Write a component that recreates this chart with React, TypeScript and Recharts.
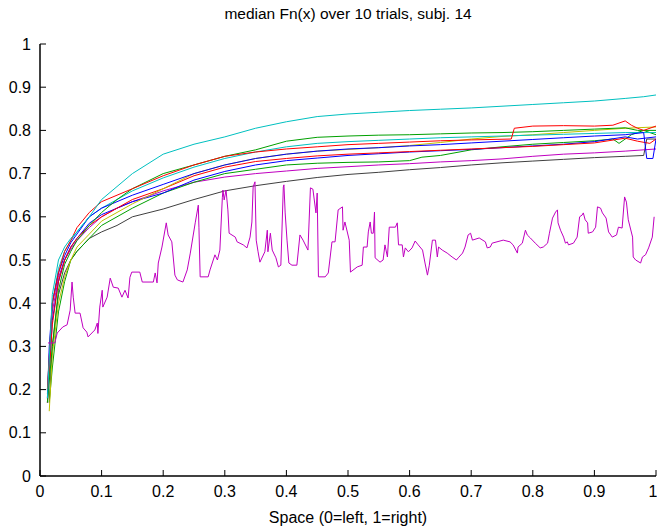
import React from 'react';
import { LineChart, Line, XAxis, YAxis } from 'recharts';

type P = [number, number];

const xTicks = [0, 0.1, 0.2, 0.3, 0.4, 0.5, 0.6, 0.7, 0.8, 0.9, 1];
const yTicks = [0, 0.1, 0.2, 0.3, 0.4, 0.5, 0.6, 0.7, 0.8, 0.9, 1];
const tickLabels = ['0', '0.1', '0.2', '0.3', '0.4', '0.5', '0.6', '0.7', '0.8', '0.9', '1'];

const titleText = 'median Fn(x) over 10 trials, subj. 14';
const xLabelText = 'Space (0=left, 1=right)';

const cyanTop: P[] = [
  [0.012, 0.18], [0.02, 0.42], [0.03, 0.5], [0.04, 0.53], [0.05, 0.55], [0.06, 0.565], [0.08, 0.6],
  [0.1, 0.64], [0.125, 0.67], [0.15, 0.7], [0.2, 0.745], [0.25, 0.768], [0.3, 0.785], [0.35, 0.805],
  [0.4, 0.82], [0.45, 0.832], [0.5, 0.838], [0.55, 0.842], [0.6, 0.846], [0.65, 0.849], [0.7, 0.852],
  [0.75, 0.856], [0.8, 0.86], [0.85, 0.864], [0.9, 0.868], [0.95, 0.874], [0.98, 0.878], [1.0, 0.882],
];
const redA: P[] = [
  [0.012, 0.2], [0.02, 0.4], [0.03, 0.47], [0.04, 0.52], [0.05, 0.545], [0.06, 0.575], [0.08, 0.61],
  [0.1, 0.635], [0.125, 0.65], [0.15, 0.665], [0.2, 0.695], [0.25, 0.72], [0.3, 0.74], [0.35, 0.75],
  [0.4, 0.757], [0.45, 0.762], [0.5, 0.767], [0.55, 0.77], [0.6, 0.773], [0.65, 0.776], [0.7, 0.778],
  [0.765, 0.78], [0.77, 0.805], [0.8, 0.81], [0.85, 0.811], [0.9, 0.81], [0.93, 0.812], [0.95, 0.822],
  [0.96, 0.812], [0.97, 0.805], [0.98, 0.8], [1.0, 0.81],
];
const redB: P[] = [
  [0.012, 0.17], [0.02, 0.35], [0.03, 0.45], [0.04, 0.5], [0.05, 0.53], [0.06, 0.55], [0.08, 0.58],
  [0.1, 0.6], [0.125, 0.62], [0.15, 0.64], [0.2, 0.665], [0.25, 0.695], [0.3, 0.715], [0.35, 0.728],
  [0.4, 0.735], [0.45, 0.741], [0.5, 0.745], [0.55, 0.748], [0.6, 0.751], [0.65, 0.754], [0.7, 0.757],
  [0.75, 0.76], [0.8, 0.763], [0.85, 0.767], [0.9, 0.771], [0.95, 0.782], [0.97, 0.775], [0.99, 0.77],
  [1.0, 0.78],
];
const greenA: P[] = [
  [0.012, 0.17], [0.02, 0.3], [0.03, 0.43], [0.04, 0.49], [0.05, 0.52], [0.06, 0.545], [0.08, 0.58],
  [0.1, 0.61], [0.125, 0.64], [0.15, 0.665], [0.2, 0.7], [0.25, 0.72], [0.3, 0.74], [0.35, 0.755],
  [0.4, 0.775], [0.45, 0.784], [0.5, 0.787], [0.55, 0.789], [0.6, 0.79], [0.65, 0.792], [0.7, 0.794],
  [0.75, 0.795], [0.8, 0.797], [0.85, 0.8], [0.9, 0.803], [0.95, 0.806], [0.97, 0.8], [1.0, 0.8],
];
const greenB: P[] = [
  [0.015, 0.17], [0.02, 0.25], [0.03, 0.38], [0.04, 0.45], [0.05, 0.5], [0.06, 0.52], [0.08, 0.55],
  [0.1, 0.58], [0.125, 0.6], [0.15, 0.62], [0.2, 0.655], [0.25, 0.68], [0.3, 0.7], [0.35, 0.71],
  [0.4, 0.72], [0.45, 0.724], [0.5, 0.726], [0.55, 0.727], [0.6, 0.73], [0.62, 0.738], [0.65, 0.742],
  [0.7, 0.755], [0.75, 0.762], [0.8, 0.768], [0.85, 0.772], [0.9, 0.776], [0.93, 0.78], [0.94, 0.77],
  [0.96, 0.79], [0.98, 0.8], [1.0, 0.79],
];
const blueA: P[] = [
  [0.012, 0.18], [0.015, 0.3], [0.02, 0.4], [0.03, 0.47], [0.04, 0.51], [0.05, 0.54], [0.06, 0.56],
  [0.08, 0.6], [0.1, 0.62], [0.125, 0.635], [0.15, 0.65], [0.2, 0.675], [0.25, 0.7], [0.3, 0.72],
  [0.35, 0.735], [0.4, 0.745], [0.45, 0.752], [0.5, 0.757], [0.55, 0.76], [0.6, 0.764], [0.65, 0.767],
  [0.7, 0.771], [0.75, 0.775], [0.8, 0.779], [0.85, 0.783], [0.9, 0.787], [0.95, 0.79], [0.98, 0.795],
  [0.985, 0.735], [0.995, 0.735], [1.0, 0.78],
];
const blueB: P[] = [
  [0.012, 0.17], [0.02, 0.36], [0.03, 0.45], [0.04, 0.5], [0.05, 0.53], [0.06, 0.55], [0.08, 0.585],
  [0.1, 0.605], [0.125, 0.62], [0.15, 0.635], [0.2, 0.655], [0.25, 0.685], [0.3, 0.705], [0.35, 0.72],
  [0.4, 0.73], [0.45, 0.736], [0.5, 0.742], [0.55, 0.746], [0.6, 0.75], [0.65, 0.753], [0.7, 0.756],
  [0.75, 0.76], [0.8, 0.764], [0.85, 0.768], [0.9, 0.774], [0.95, 0.785], [0.97, 0.78], [1.0, 0.785],
];
const cyanB: P[] = [
  [0.012, 0.2], [0.02, 0.4], [0.03, 0.48], [0.04, 0.52], [0.05, 0.545], [0.06, 0.565], [0.08, 0.6],
  [0.1, 0.62], [0.125, 0.64], [0.15, 0.66], [0.2, 0.69], [0.25, 0.715], [0.3, 0.735], [0.35, 0.75],
  [0.4, 0.762], [0.45, 0.77], [0.5, 0.774], [0.55, 0.777], [0.6, 0.78], [0.65, 0.783], [0.7, 0.785],
  [0.75, 0.787], [0.8, 0.789], [0.85, 0.791], [0.9, 0.793], [0.95, 0.795], [1.0, 0.795],
];
const yellowA: P[] = [
  [0.015, 0.15], [0.02, 0.28], [0.03, 0.4], [0.04, 0.46], [0.05, 0.5], [0.06, 0.53], [0.08, 0.56],
  [0.1, 0.59], [0.125, 0.61], [0.15, 0.63], [0.2, 0.665], [0.25, 0.7], [0.3, 0.72], [0.35, 0.735],
  [0.4, 0.745], [0.45, 0.752], [0.5, 0.756], [0.55, 0.76], [0.6, 0.765], [0.65, 0.772], [0.7, 0.78],
  [0.75, 0.786], [0.8, 0.79], [0.85, 0.795], [0.9, 0.8], [0.95, 0.805], [1.0, 0.808],
];
const magentaSmooth: P[] = [
  [0.012, 0.19], [0.02, 0.38], [0.03, 0.46], [0.04, 0.5], [0.05, 0.525], [0.06, 0.545], [0.08, 0.575],
  [0.1, 0.6], [0.125, 0.62], [0.15, 0.635], [0.2, 0.66], [0.25, 0.68], [0.3, 0.692], [0.35, 0.7],
  [0.4, 0.706], [0.45, 0.712], [0.5, 0.716], [0.55, 0.72], [0.6, 0.723], [0.65, 0.727], [0.7, 0.73],
  [0.75, 0.734], [0.8, 0.74], [0.85, 0.745], [0.9, 0.748], [0.95, 0.752], [1.0, 0.757],
];
const grayA: P[] = [
  [0.015, 0.17], [0.02, 0.3], [0.03, 0.42], [0.04, 0.47], [0.05, 0.5], [0.06, 0.52], [0.08, 0.55],
  [0.1, 0.565], [0.125, 0.58], [0.15, 0.6], [0.2, 0.618], [0.25, 0.64], [0.3, 0.66], [0.35, 0.672],
  [0.4, 0.682], [0.45, 0.691], [0.5, 0.698], [0.55, 0.703], [0.6, 0.709], [0.65, 0.714], [0.7, 0.72],
  [0.75, 0.725], [0.8, 0.729], [0.85, 0.733], [0.9, 0.737], [0.95, 0.74], [0.98, 0.742], [0.985, 0.78],
  [1.0, 0.78],
];
const magentaNoisy: P[] = [
  [0.013, 0.308], [0.024, 0.308], [0.028, 0.331], [0.037, 0.345], [0.044, 0.35], [0.049, 0.384],
  [0.052, 0.449], [0.054, 0.414], [0.057, 0.377], [0.065, 0.377], [0.07, 0.343], [0.076, 0.333],
  [0.078, 0.322], [0.089, 0.338], [0.093, 0.354], [0.094, 0.33], [0.097, 0.391], [0.101, 0.43],
  [0.102, 0.391], [0.109, 0.414], [0.114, 0.458], [0.119, 0.437], [0.127, 0.435], [0.133, 0.414],
  [0.138, 0.43], [0.143, 0.412], [0.146, 0.46], [0.149, 0.472], [0.162, 0.472], [0.166, 0.449],
  [0.184, 0.449], [0.187, 0.47], [0.19, 0.447], [0.192, 0.493], [0.198, 0.53], [0.205, 0.586],
  [0.208, 0.558], [0.214, 0.542], [0.219, 0.465], [0.223, 0.454], [0.232, 0.449], [0.239, 0.477],
  [0.244, 0.516], [0.252, 0.586], [0.257, 0.627], [0.258, 0.576], [0.26, 0.461], [0.273, 0.461],
  [0.276, 0.477], [0.284, 0.512], [0.288, 0.5], [0.292, 0.523], [0.296, 0.644], [0.297, 0.662],
  [0.299, 0.639], [0.302, 0.662], [0.305, 0.616], [0.307, 0.562], [0.317, 0.553], [0.32, 0.542],
  [0.33, 0.535], [0.336, 0.528], [0.341, 0.553], [0.344, 0.588], [0.346, 0.669], [0.349, 0.681],
  [0.351, 0.546], [0.354, 0.519], [0.357, 0.495], [0.365, 0.519], [0.369, 0.569], [0.37, 0.519],
  [0.374, 0.562], [0.377, 0.523], [0.383, 0.505], [0.387, 0.484], [0.391, 0.488], [0.395, 0.669],
  [0.396, 0.674], [0.398, 0.609], [0.401, 0.546], [0.404, 0.493], [0.409, 0.488], [0.417, 0.488],
  [0.422, 0.558], [0.427, 0.546], [0.435, 0.523], [0.439, 0.667], [0.443, 0.664], [0.448, 0.609],
  [0.45, 0.655], [0.452, 0.461], [0.463, 0.461], [0.468, 0.47], [0.474, 0.542], [0.479, 0.542],
  [0.484, 0.616], [0.491, 0.623], [0.492, 0.569], [0.495, 0.588], [0.502, 0.546], [0.504, 0.472],
  [0.515, 0.484], [0.523, 0.488], [0.525, 0.53], [0.531, 0.53], [0.533, 0.565], [0.536, 0.588],
  [0.538, 0.562], [0.541, 0.562], [0.543, 0.611], [0.544, 0.505], [0.552, 0.495], [0.557, 0.5],
  [0.56, 0.535], [0.564, 0.507], [0.567, 0.576], [0.577, 0.576], [0.58, 0.586], [0.582, 0.535],
  [0.588, 0.535], [0.59, 0.507], [0.593, 0.528], [0.598, 0.519], [0.604, 0.528], [0.609, 0.544],
  [0.614, 0.535], [0.621, 0.523], [0.625, 0.493], [0.629, 0.465], [0.632, 0.488], [0.637, 0.546],
  [0.642, 0.546], [0.645, 0.507], [0.647, 0.53], [0.653, 0.523], [0.661, 0.516], [0.669, 0.507],
  [0.676, 0.5], [0.679, 0.505], [0.686, 0.516], [0.69, 0.53], [0.695, 0.558], [0.699, 0.562],
  [0.702, 0.546], [0.713, 0.551], [0.723, 0.542], [0.726, 0.528], [0.731, 0.53], [0.734, 0.539],
  [0.752, 0.546], [0.763, 0.542], [0.768, 0.535], [0.775, 0.516], [0.776, 0.53], [0.783, 0.539],
  [0.788, 0.569], [0.791, 0.558], [0.796, 0.551], [0.804, 0.539], [0.812, 0.528], [0.817, 0.53],
  [0.824, 0.539], [0.827, 0.562], [0.832, 0.597], [0.837, 0.611], [0.84, 0.616], [0.841, 0.586],
  [0.845, 0.569], [0.85, 0.553], [0.853, 0.539], [0.856, 0.542], [0.858, 0.535], [0.866, 0.539],
  [0.872, 0.553], [0.876, 0.6], [0.88, 0.604], [0.882, 0.609], [0.885, 0.593], [0.889, 0.586],
  [0.89, 0.562], [0.897, 0.565], [0.902, 0.576], [0.905, 0.623], [0.91, 0.62], [0.913, 0.609],
  [0.919, 0.597], [0.923, 0.565], [0.929, 0.553], [0.936, 0.558], [0.939, 0.576], [0.945, 0.574],
  [0.949, 0.646], [0.952, 0.634], [0.955, 0.593], [0.962, 0.553], [0.963, 0.507], [0.967, 0.5],
  [0.975, 0.493], [0.978, 0.507], [0.983, 0.512], [0.988, 0.528], [0.994, 0.553], [0.997, 0.6],
];

const seriesList = [
  { key: 'grayA', color: '#404040', points: grayA },
  { key: 'magentaSmooth', color: '#c000c0', points: magentaSmooth },
  { key: 'greenB', color: '#00a000', points: greenB },
  { key: 'blueB', color: '#0000ff', points: blueB },
  { key: 'redB', color: '#ff0000', points: redB },
  { key: 'yellowA', color: '#c0c000', points: yellowA },
  { key: 'cyanB', color: '#00c0c0', points: cyanB },
  { key: 'blueA', color: '#0000ff', points: blueA },
  { key: 'greenA', color: '#00a000', points: greenA },
  { key: 'redA', color: '#ff0000', points: redA },
  { key: 'cyanTop', color: '#00c0c0', points: cyanTop },
  { key: 'magentaNoisy', color: '#c000c0', points: magentaNoisy },
];

const toData = (pts: P[]) => pts.map(([x, y]) => ({ x, y }));

const FONT = '"Liberation Sans", Arial, sans-serif';
const tickStyle = { fill: '#000', fontSize: 16, fontFamily: FONT };
const fmt = (v: number) => tickLabels[Math.round(v * 10)] ?? String(v);

export default function App() {
  return (
    <div style={{ position: 'absolute', left: 0, top: 0, width: 657, height: 526, background: '#fff' }}>
      <div
        style={{
          position: 'absolute', left: 40, top: 5, width: 616, textAlign: 'center',
          fontFamily: FONT, fontSize: 15.5, lineHeight: '18px', color: '#000',
        }}
      >
        {titleText}
      </div>
      <LineChart
        width={657}
        height={526}
        margin={{ top: 44, right: 1, bottom: 0, left: 0 }}
      >
        <XAxis
          dataKey="x"
          type="number"
          domain={[0, 1]}
          ticks={xTicks}
          tickFormatter={fmt}
          allowDataOverflow
          height={50}
          tickSize={-6}
          tickMargin={16}
          tick={tickStyle}
          axisLine={{ stroke: '#000', strokeWidth: 1.5 }}
          tickLine={{ stroke: '#000' }}
        />
        <XAxis
          xAxisId="top"
          orientation="top"
          dataKey="x"
          type="number"
          domain={[0, 1]}
          ticks={xTicks}
          allowDataOverflow
          height={0}
          tickSize={-6}
          tick={false}
          axisLine={{ stroke: '#000', strokeWidth: 1.5 }}
          tickLine={{ stroke: '#000' }}
        />
        <YAxis
          type="number"
          domain={[0, 1]}
          ticks={yTicks}
          tickFormatter={fmt}
          allowDataOverflow
          width={40}
          tickSize={-6}
          tickMargin={15}
          tick={tickStyle}
          axisLine={{ stroke: '#000', strokeWidth: 1.5 }}
          tickLine={{ stroke: '#000' }}
        />
        <YAxis
          yAxisId="right"
          orientation="right"
          type="number"
          domain={[0, 1]}
          ticks={yTicks}
          allowDataOverflow
          width={0}
          tickSize={-6}
          tick={false}
          axisLine={{ stroke: '#000', strokeWidth: 1.5 }}
          tickLine={{ stroke: '#000' }}
        />
        {seriesList.map((s) => (
          <Line
            key={s.key}
            data={toData(s.points)}
            dataKey="y"
            type="linear"
            stroke={s.color}
            strokeWidth={1}
            dot={false}
            activeDot={false}
            isAnimationActive={false}
          />
        ))}
      </LineChart>
      <div
        style={{
          position: 'absolute', left: 40, top: 509, width: 616, textAlign: 'center',
          fontFamily: FONT, fontSize: 16, lineHeight: '18px', color: '#000',
        }}
      >
        {xLabelText}
      </div>
    </div>
  );
}
